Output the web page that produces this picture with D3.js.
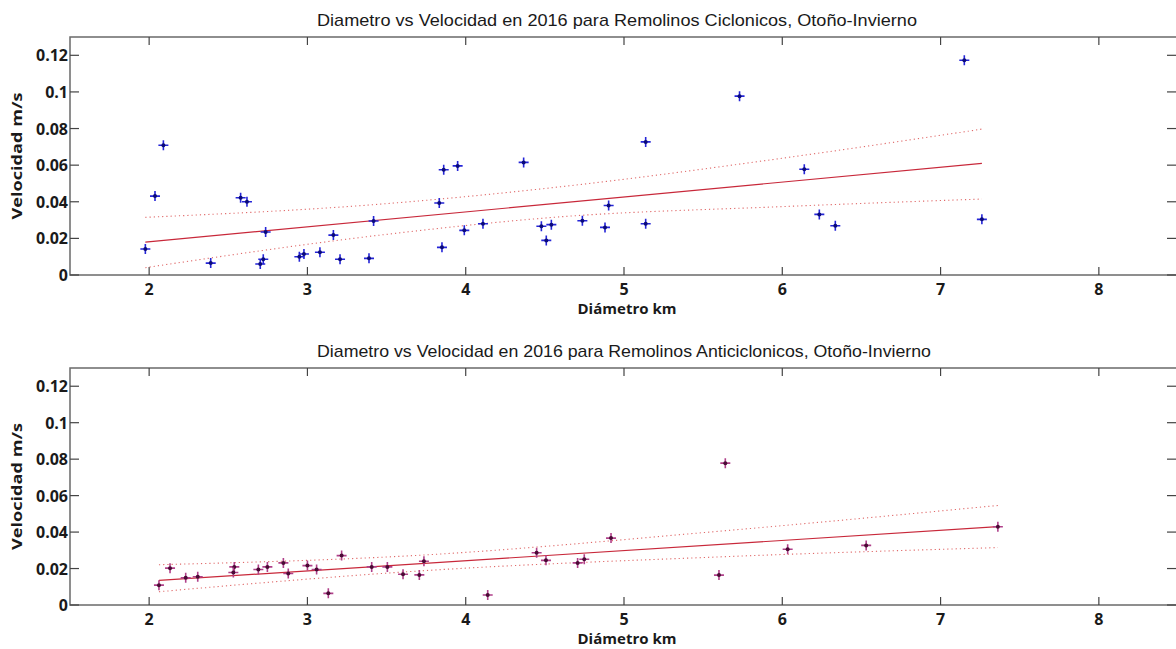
<!DOCTYPE html>
<html>
<head>
<meta charset="utf-8">
<script src="https://cdn.jsdelivr.net/npm/d3@7"></script>
<style>
  body { margin: 0; background: #fff; }
  .tick-label { font-family: 'Open Sans', sans-serif; font-weight: bold; font-size: 16px; fill: #1a1a1a; }
  .axis-title { font-family: 'Open Sans', sans-serif; font-weight: bold; font-size: 15px; fill: #1a1a1a; }
  .chart-title { font-family: 'Liberation Sans', Arial, sans-serif; font-size: 17px; fill: #1a1a1a; }
</style>
</head>
<body>
<div id="chart"></div>
<script>
// ciclonicos (top)
var cicDiam = [1.976, 2.037, 2.09, 2.389, 2.578, 2.618, 2.736, 2.702, 2.721, 2.949, 2.978, 3.079,
  3.164, 3.206, 3.389, 3.418, 3.833, 3.861, 3.85, 3.949, 3.991, 4.109, 4.366, 4.478, 4.509,
  4.541, 4.737, 4.88, 4.903, 5.137, 5.137, 5.73, 6.139, 6.234, 6.335, 7.15, 7.261];
var cicVel = [0.0142, 0.0431, 0.0709, 0.0065, 0.0422, 0.040, 0.0235, 0.006, 0.0086, 0.010, 0.0115, 0.0124,
  0.0218, 0.0086, 0.0091, 0.0295, 0.0393, 0.0575, 0.0151, 0.0596, 0.0244, 0.028, 0.0615, 0.0266, 0.0189,
  0.0275, 0.0296, 0.026, 0.038, 0.0727, 0.028, 0.0977, 0.0578, 0.0331, 0.0269, 0.1173, 0.0304];
var cicFitX = [1.976, 7.261];
var cicFitY = [0.018, 0.061];
var cicBandX = [1.976, 3.46, 4.6, 5.985, 7.261];
var cicUpper = [0.0315, 0.0387, 0.0482, 0.0636, 0.0797];
var cicLower = [0.004, 0.0218, 0.0318, 0.0373, 0.0415];

// anticiclonicos (bottom)
var antDiam = [2.062, 2.132, 2.231, 2.307, 2.538, 2.532, 2.69, 2.747, 2.848, 2.879, 3.0, 3.058,
  3.132, 3.216, 3.406, 3.505, 3.604, 3.707, 3.736, 4.139, 4.448, 4.507, 4.707, 4.749, 4.918,
  5.6, 5.64, 6.034, 6.53, 7.362];
var antVel = [0.0109, 0.0202, 0.0149, 0.0155, 0.0209, 0.0178, 0.0195, 0.0209, 0.0231, 0.0173, 0.0216, 0.0195,
  0.0064, 0.0271, 0.0209, 0.0209, 0.0169, 0.0165, 0.024, 0.0055, 0.0287, 0.0245, 0.0231, 0.0251, 0.0367,
  0.0164, 0.0778, 0.0306, 0.0327, 0.0429];
var antFitX = [2.062, 7.362];
var antFitY = [0.0135, 0.043];
var antBandX = [2.062, 3.71, 5.606, 7.362];
var antUpper = [0.0221, 0.0273, 0.0405, 0.0546];
var antLower = [0.0073, 0.0187, 0.0264, 0.0315];

var xTicks = [2, 3, 4, 5, 6, 7, 8];
var yTicks = [0, 0.02, 0.04, 0.06, 0.08, 0.1, 0.12];

var W = 1176, H = 649;
var svg = d3.select("#chart").append("svg")
  .attr("width", W).attr("height", H);

var xScale = d3.scaleLinear().domain([1.5, 8.5]).range([70, 1178]);

function panel(cfg) {
  var yScale = d3.scaleLinear().domain([0, 0.13]).range([cfg.bottom, cfg.top]);
  var g = svg.append("g");
  var left = xScale.range()[0], right = xScale.range()[1];

  // title
  g.append("text").attr("class", "chart-title")
    .attr("x", cfg.titleX).attr("y", cfg.top - 11)
    .attr("text-anchor", "middle")
    .attr("textLength", cfg.titleW)
    .attr("lengthAdjust", "spacingAndGlyphs")
    .text(cfg.title);

  // box
  g.append("rect")
    .attr("x", left).attr("y", cfg.top)
    .attr("width", right - left).attr("height", cfg.bottom - cfg.top)
    .attr("fill", "none").attr("stroke", "#6a6a6a").attr("stroke-width", 1.5);

  // x ticks (inward, top and bottom)
  xTicks.forEach(function(t) {
    var x = xScale(t);
    g.append("line").attr("x1", x).attr("x2", x).attr("y1", cfg.bottom).attr("y2", cfg.bottom - 8)
      .attr("stroke", "#444").attr("stroke-width", 1.2);
    g.append("line").attr("x1", x).attr("x2", x).attr("y1", cfg.top).attr("y2", cfg.top + 8)
      .attr("stroke", "#444").attr("stroke-width", 1.2);
    g.append("text").attr("class", "tick-label")
      .attr("x", x).attr("y", cfg.bottom + 20)
      .attr("text-anchor", "middle")
      .text(d3.format("d")(t));
  });

  // y ticks (inward, left and right)
  yTicks.forEach(function(t) {
    var y = yScale(t);
    g.append("line").attr("x1", left).attr("x2", left + 9).attr("y1", y).attr("y2", y)
      .attr("stroke", "#444").attr("stroke-width", 1.2);
    g.append("line").attr("x1", right).attr("x2", right - 11).attr("y1", y).attr("y2", y)
      .attr("stroke", "#444").attr("stroke-width", 1.2);
    g.append("text").attr("class", "tick-label")
      .attr("x", left - 2).attr("y", y + 6)
      .attr("text-anchor", "end")
      .text(t === 0 ? "0" : String(t));
  });

  // axis titles
  g.append("text").attr("class", "axis-title")
    .attr("x", 627).attr("y", cfg.bottom + 39)
    .attr("text-anchor", "middle")
    .attr("textLength", 99)
    .attr("lengthAdjust", "spacingAndGlyphs")
    .text("Diámetro km");
  g.append("text").attr("class", "axis-title")
    .attr("transform", "translate(22," + ((cfg.top + cfg.bottom) / 2) + ") rotate(-90)")
    .attr("text-anchor", "middle")
    .attr("textLength", 127)
    .attr("lengthAdjust", "spacingAndGlyphs")
    .text("Velocidad m/s");

  // confidence band (dotted)
  var band = d3.line()
    .curve(d3.curveMonotoneX)
    .x(function(d) { return xScale(d[0]); })
    .y(function(d) { return yScale(d[1]); });
  [cfg.upper, cfg.lower].forEach(function(arr) {
    g.append("path")
      .datum(cfg.bandX.map(function(x, i) { return [x, arr[i]]; }))
      .attr("d", band)
      .attr("fill", "none")
      .attr("stroke", "#e06a6a")
      .attr("stroke-width", 1.1)
      .attr("stroke-dasharray", "1.2,3");
  });

  // fit line
  g.append("path")
    .datum(cfg.fitX.map(function(x, i) { return [x, cfg.fitY[i]]; }))
    .attr("d", band)
    .attr("fill", "none")
    .attr("stroke", "#c8283a")
    .attr("stroke-width", 1.2);

  // markers
  var pts = g.selectAll("g.pt")
    .data(cfg.xs.map(function(x, i) { return [x, cfg.ys[i]]; }))
    .enter().append("g")
    .attr("class", "pt")
    .attr("transform", function(d) { return "translate(" + xScale(d[0]) + "," + yScale(d[1]) + ")"; });
  pts.append("path")
    .attr("d", "M-5,0H5M0,-5V5")
    .attr("stroke", cfg.color)
    .attr("stroke-width", 1.6);
  pts.append("circle")
    .attr("r", 2)
    .attr("fill", cfg.center);
}

panel({
  top: 37, bottom: 275,
  title: "Diametro vs Velocidad en 2016 para Remolinos Ciclonicos, Otoño-Invierno",
  titleX: 617, titleW: 600,
  xs: cicDiam, ys: cicVel,
  fitX: cicFitX, fitY: cicFitY,
  bandX: cicBandX, upper: cicUpper, lower: cicLower,
  color: "#2525d8", center: "#0a0a7a"
});

panel({
  top: 368, bottom: 605,
  title: "Diametro vs Velocidad en 2016 para Remolinos Anticiclonicos, Otoño-Invierno",
  titleX: 624, titleW: 614,
  xs: antDiam, ys: antVel,
  fitX: antFitX, fitY: antFitY,
  bandX: antBandX, upper: antUpper, lower: antLower,
  color: "#b0408a", center: "#4a0a35"
});
</script>
</body>
</html>
